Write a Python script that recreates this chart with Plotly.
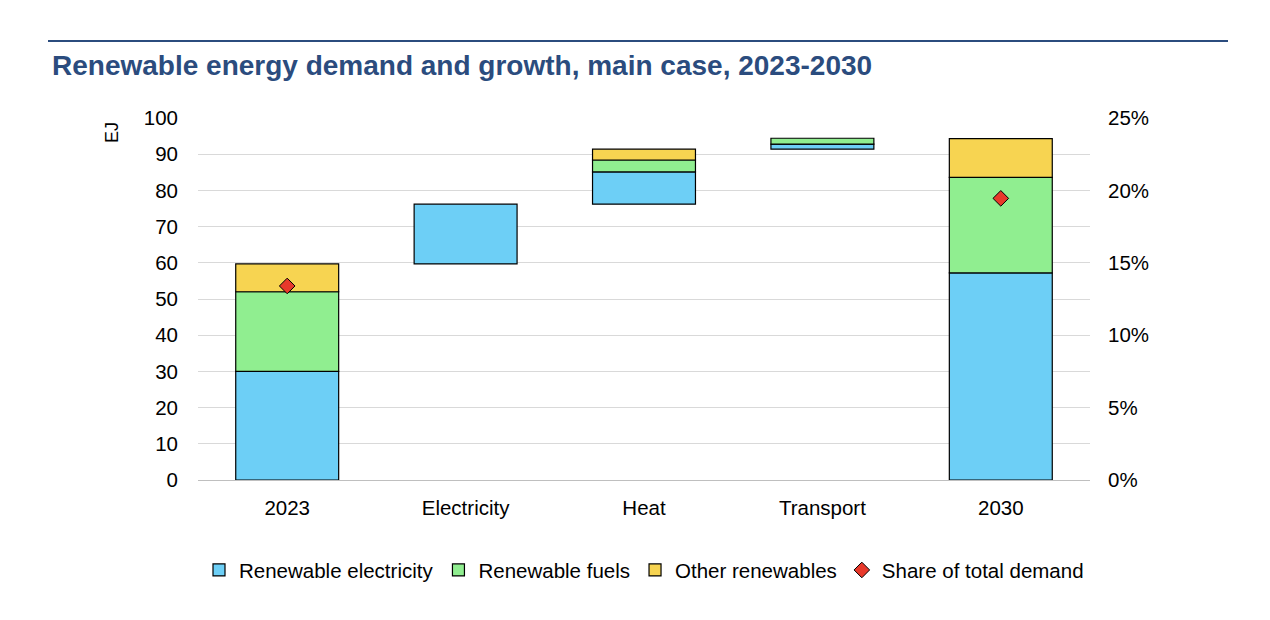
import plotly.graph_objects as go

categories = ["2023", "Electricity", "Heat", "Transport", "2030"]
is_total = [True, False, False, False, True]
renewable_electricity = [30.0, 16.5, 8.9, 1.4, 57.2]
renewable_fuels = [22.0, None, 3.3, 1.6, 26.4]
other_renewables = [7.7, None, 3.0, None, 10.7]
share_x = ["2023", "2030"]
share_values = [0.134, 0.1945]

series = [
    ("Renewable electricity", renewable_electricity, "#6DCFF6"),
    ("Renewable fuels", renewable_fuels, "#90EE90"),
    ("Other renewables", other_renewables, "#F7D451"),
]

# starting point of each column (waterfall)
starts = []
running = 0.0
for i, tot in enumerate(is_total):
    col_sum = sum((s[1][i] or 0) for s in series)
    if tot:
        starts.append(0.0)
        running = col_sum
    else:
        starts.append(running)
        running += col_sum

fig = go.Figure()
offsets = list(starts)
for name, vals, color in series:
    bases = []
    for i, v in enumerate(vals):
        bases.append(offsets[i])
        offsets[i] += (v or 0)
    fig.add_trace(go.Bar(
        x=categories, y=vals, base=bases, name=name,
        marker=dict(color=color, line=dict(color="#000000", width=1.2)),
        width=0.577,
    ))

fig.add_trace(go.Scatter(
    x=share_x, y=share_values, name="Share of total demand", mode="markers",
    yaxis="y2",
    marker=dict(symbol="diamond", size=12, color="#E8392B", line=dict(color="#000000", width=1)),
))

W, H = 1262, 612
L, T, PW, PH = 190, 110, 892, 362

fig.update_layout(
    width=W, height=H,
    paper_bgcolor="white", plot_bgcolor="white",
    barmode="overlay",
    margin=dict(l=L, r=W - L - PW, t=T, b=H - T - PH, pad=0),
    font=dict(family="Liberation Sans, Arial, sans-serif", size=20.5, color="#000000"),
    title=dict(text="<b>Renewable energy demand and growth, main case, 2023-2030</b>",
               xref="container", yref="container", x=44 / W, xanchor="left",
               y=1 - 57 / H, yanchor="middle",
               font=dict(size=28, color="#2B4C7E")),
    xaxis=dict(type="category", showgrid=False, showline=True, linecolor="#BFBFBF",
               linewidth=1, ticks="", ticklabelstandoff=9),
    yaxis=dict(range=[0, 100], dtick=10, showgrid=True, gridcolor="#D9D9D9", gridwidth=1,
               zeroline=False, showline=False, ticks="", ticklabelstandoff=19),
    yaxis2=dict(range=[0, 0.25], dtick=0.05, tickformat=".0%", overlaying="y", side="right",
                showgrid=False, zeroline=False, showline=False, ticks="",
                ticklabelstandoff=17),
    legend=dict(orientation="h", x=0.5, xanchor="center", y=-0.249, yanchor="middle",
                font=dict(size=20.5), traceorder="normal", itemwidth=30),
    showlegend=True,
)

fig.add_shape(type="line", xref="paper", yref="paper",
              x0=(40 - L) / PW, x1=(1220 - L) / PW, y0=(PH + T - 33) / PH, y1=(PH + T - 33) / PH,
              line=dict(color="#2B4C7E", width=2))
fig.add_annotation(text="EJ", xref="paper", yref="paper", x=(112 - 198) / PW, y=(480 - 133) / PH,
                   textangle=-90, showarrow=False, font=dict(size=18), xanchor="center", yanchor="middle")

fig.write_html("out.html")
